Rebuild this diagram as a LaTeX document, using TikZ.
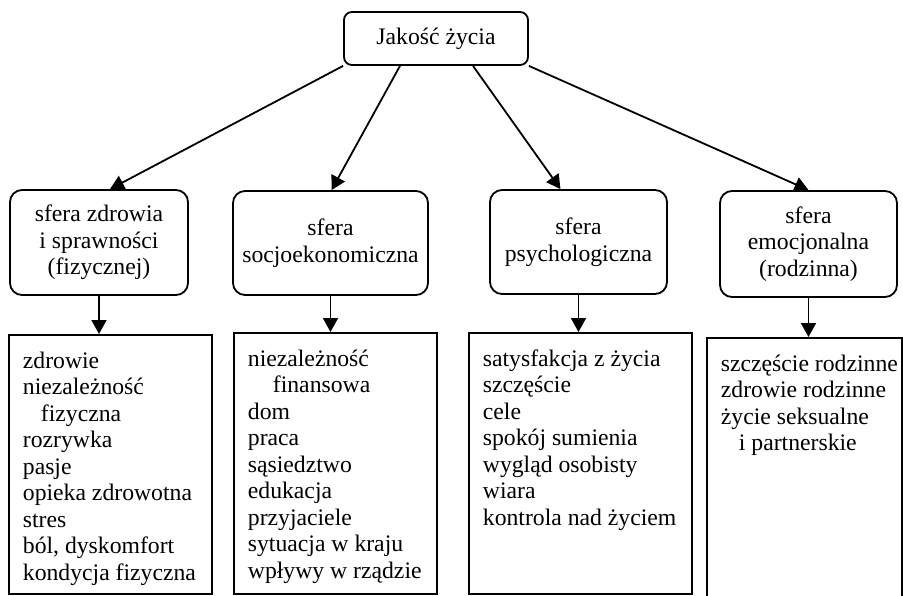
\documentclass[tikz,border=0pt]{standalone}
\usepackage{fontspec}
\setmainfont{Liberation Serif}
\usetikzlibrary{arrows.meta,calc}

% list box content: width, height, lines
\newcommand{\spis}[3]{\begin{minipage}[t][#2][t]{#1}\vspace*{15pt}\raggedright\leftskip=14pt\strut#3\end{minipage}}

\begin{document}
\begin{tikzpicture}[x=1pt,y=-1pt,
    every node/.style={font=\fontsize{23.7}{26.5}\selectfont},
    sfera/.style={draw,rounded corners=12pt,line width=1.8pt,inner sep=0pt,align=center},
    lista/.style={draw,line width=1.8pt,inner sep=0pt,anchor=north west},
    arr/.style={line width=1.8pt,-{Triangle[length=14pt,width=15pt]}}]

    \useasboundingbox (0,0) rectangle (903,595);

    % Top node
    \node[sfera,rounded corners=8pt,minimum width=184pt,minimum height=53pt] (jz) at (436,38.5) {Jakość życia};

    % Spheres
    \node[sfera,minimum width=178pt,minimum height=105pt] (s1) at (99,242.5) {sfera zdrowia\\ i sprawności\\ (fizycznej)};
    \node[sfera,minimum width=195pt,minimum height=104pt] (s2) at (330.5,243) {sfera\\ socjoekonomiczna};
    \node[sfera,minimum width=177pt,minimum height=104pt] (s3) at (578.5,242) {sfera\\ psychologiczna};
    \node[sfera,minimum width=177pt,minimum height=106pt] (s4) at (808.5,244) {sfera\\ emocjonalna\\ (rodzinna)};

    % Lists
    \node[lista] (l1) at (8,334) {\spis{203pt}{259pt}{zdrowie\\ niezależność\\ \hspace*{18pt}fizyczna\\ rozrywka\\ pasje\\ opieka zdrowotna\\ stres\\ ból, dyskomfort\\ kondycja fizyczna}};
    \node[lista] (l2) at (233,332) {\spis{203pt}{261pt}{niezależność\\ \hspace*{25pt}finansowa\\ dom\\ praca\\ sąsiedztwo\\ edukacja\\ przyjaciele\\ sytuacja w kraju\\ wpływy w rządzie}};
    \node[lista] (l3) at (468,332) {\spis{223pt}{261pt}{satysfakcja z życia\\ szczęście\\ cele\\ spokój sumienia\\ wygląd osobisty\\ wiara\\ kontrola nad życiem}};
    \node[lista] (l4) at (706,337) {\spis{195pt}{261pt}{szczęście rodzinne\\ zdrowie rodzinne\\ życie seksualne\\ \hspace*{18pt}i partnerskie}};

    % Arrows from the top
    \draw[arr] (jz.south west) -- ($(s1.north)+(11,0)$);
    \draw[arr] ($(jz.south)+(-36,0)$) -- ($(s2.north)+(1,0)$);
    \draw[arr] ($(jz.south)+(37,0)$) -- ($(s3.north)+(-18,0)$);
    \draw[arr] (jz.south east) -- (s4.north);

    % Arrows down to the lists
    \foreach \i in {1,...,4}
        \draw[arr] (s\i.south) -- (s\i.south |- l\i.north);
\end{tikzpicture}
\end{document}
